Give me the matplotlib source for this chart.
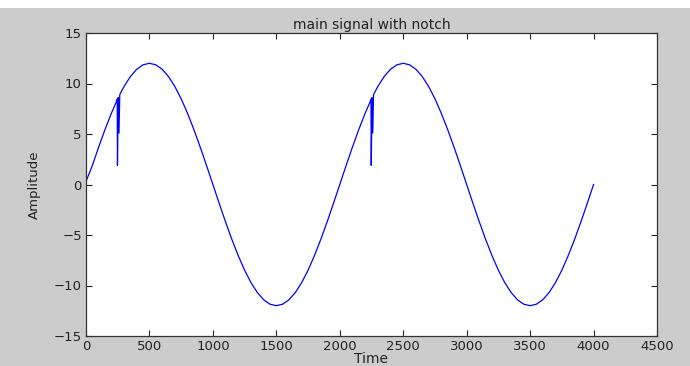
import matplotlib
matplotlib.use("Agg")
import matplotlib.pyplot as plt
from matplotlib.patches import Rectangle

# Sine-like signal (amplitude ~12, period ~2000) with two notches
time = [0, 50, 100, 150, 200, 240, 246, 248, 254, 260, 266, 300, 350, 400, 450, 500,
        550, 600, 650, 700, 750, 800, 850, 900, 950, 1000,
        1050, 1100, 1150, 1200, 1250, 1300, 1350, 1400, 1450, 1500,
        1550, 1600, 1650, 1700, 1750, 1800, 1850, 1900, 1950, 2000,
        2050, 2100, 2150, 2200, 2240, 2246, 2248, 2254, 2260, 2266, 2300, 2350, 2400, 2450, 2500,
        2550, 2600, 2650, 2700, 2750, 2800, 2850, 2900, 2950, 3000,
        3050, 3100, 3150, 3200, 3250, 3300, 3350, 3400, 3450, 3500,
        3550, 3600, 3650, 3700, 3750, 3800, 3850, 3900, 3950, 4000]
amplitude = [0.3, 1.88, 3.71, 5.45, 7.05, 8.21, 8.45, 1.9, 8.6, 5.1, 8.9, 9.71, 10.69, 11.41, 11.85, 12.0,
             11.85, 11.41, 10.69, 9.71, 8.49, 7.05, 5.45, 3.71, 1.88, 0.0,
             -1.88, -3.71, -5.45, -7.05, -8.49, -9.71, -10.69, -11.41, -11.85, -12.0,
             -11.85, -11.41, -10.69, -9.71, -8.49, -7.05, -5.45, -3.71, -1.88, 0.0,
             1.88, 3.71, 5.45, 7.05, 8.21, 8.45, 1.9, 8.6, 5.1, 8.9, 9.71, 10.69, 11.41, 11.85, 12.0,
             11.85, 11.41, 10.69, 9.71, 8.49, 7.05, 5.45, 3.71, 1.88, 0.0,
             -1.88, -3.71, -5.45, -7.05, -8.49, -9.71, -10.69, -11.41, -11.85, -12.0,
             -11.85, -11.41, -10.69, -9.71, -8.49, -7.05, -5.45, -3.71, -1.88, 0.0]

xticks = [0, 500, 1000, 1500, 2000, 2500, 3000, 3500, 4000, 4500]
yticks = [-15, -10, -5, 0, 5, 10, 15]

plt.rcParams['font.family'] = ['DejaVu Sans']

fig = plt.figure(figsize=(6.9, 3.66), dpi=100, facecolor='#cccccc')
# white strip at the top of the image
fig.patches.append(Rectangle((0, 358 / 366), 1, 8 / 366, transform=fig.transFigure,
                             facecolor='white', edgecolor='none', zorder=-1))

ax = fig.add_axes([86 / 690, 30 / 366, (657 - 86) / 690, (336 - 33) / 366])
ax.set_facecolor('white')
ax.plot(time, amplitude, color='#0000ff', linewidth=0.9)

ax.set_xlim(0, 4500)
ax.set_ylim(-15, 15)
ax.set_xticks(xticks)
ax.set_yticks(yticks)
ax.tick_params(direction='in', length=4, width=0.8, top=True, right=True,
               labelsize=9.5, colors='#222222', pad=3)
for s in ax.spines.values():
    s.set_color('#333333')
    s.set_linewidth(0.9)

ax.set_title('main signal with notch', fontsize=10, pad=3, color='#222222')
ax.set_xlabel('Time', fontsize=10, labelpad=-1, color='#222222')
ax.set_ylabel('Amplitude', fontsize=9.5, labelpad=9, color='#222222')

fig.savefig('out.png', dpi=100, facecolor=fig.get_facecolor())
